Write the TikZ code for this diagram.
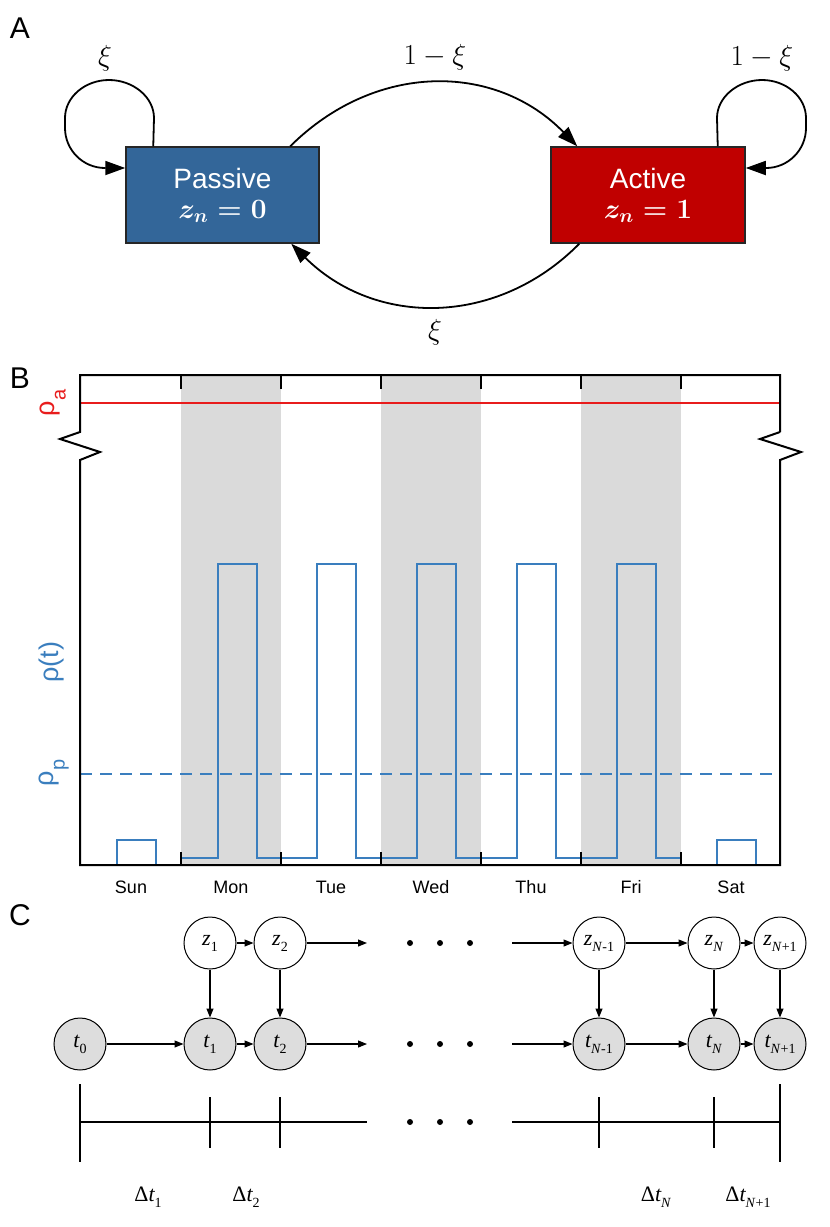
\RequirePackage{fix-cm}
\documentclass[tikz,border=0pt]{standalone}
\usepackage{amsmath}
\usepackage{fontspec}
\usetikzlibrary{arrows.meta,calc}
\newfontfamily\hv{Liberation Sans}
\newfontfamily\tms{Liberation Serif}
\definecolor{pblue}{RGB}{51,102,153}
\definecolor{ared}{RGB}{192,0,0}
\definecolor{sigblue}{RGB}{58,126,190}
\definecolor{rhored}{RGB}{232,28,28}
\definecolor{shadegray}{RGB}{218,218,218}
\definecolor{tgray}{RGB}{221,221,221}
\newcommand\pcs[2]{{\itshape #1}\raisebox{-6pt}{\fontsize{14}{14}\selectfont #2}}
\tikzset{
  statebox/.style={draw=black!85, line width=1.5pt, minimum height=96pt, text=white, align=center, inner sep=0pt, font=\hv\fontsize{28}{30}\selectfont},
  bigarc/.style={line width=1.8pt, -{Triangle[length=20pt,width=14pt]}},
  mathlbl/.style={font=\fontsize{29}{29}\selectfont, inner sep=0pt},
  panellbl/.style={font=\hv\fontsize{30}{30}\selectfont, inner sep=0pt},
  daylbl/.style={font=\hv\fontsize{18}{18}\selectfont, inner sep=0pt},
  rholbl/.style={font=\hv\fontsize{27}{27}\selectfont, inner sep=0pt, rotate=90},
  zc/.style={circle, draw, line width=1pt, minimum size=52pt, inner sep=0pt, font=\tms\fontsize{22}{22}\selectfont},
  tc/.style={zc, fill=tgray},
  smallar/.style={line width=1.1pt, -{Triangle[length=9pt,width=7pt]}},
  frameline/.style={line width=2pt, line join=miter},
  tline/.style={line width=1.6pt},
  dlbl/.style={font=\tms\fontsize{22}{22}\selectfont, inner sep=0pt}
}
\begin{document}
\begin{tikzpicture}[x=1pt,y=-1pt]
\useasboundingbox (0,0) rectangle (830,1227);
% ---------------- Panel A ----------------
\node[panellbl] (labA) at (20,28) {A};
\node[statebox, fill=pblue, minimum width=193pt] (passive) at (222.5,195) {Passive\\{\boldmath$z_n = 0$}};
\node[statebox, fill=ared, minimum width=194pt] (active) at (648,195) {Active\\{\boldmath$z_n = 1$}};
% self loops
\draw[bigarc] ($(passive.north west)+(28,0)$) -- (154,118) .. controls (154,97) and (133,80) .. (109,80) .. controls (85,80) and (65,97) .. (65,118) -- (65,128) .. controls (65,150) and (83,168) .. (105,168) -- ($(passive.west)+(0,-27)$);
\draw[bigarc] ($(active.north east)+(-28,0)$) -- (717,118) .. controls (717,97) and (738,80) .. (762,80) .. controls (786,80) and (806,97) .. (806,118) -- (806,128) .. controls (806,150) and (788,168) .. (766,168) -- ($(active.east)+(0,-27)$);
% arcs between states
\draw[bigarc] ($(passive.north west)+(165,0)$) .. controls (375,62) and (495,62) .. ($(active.north west)+(27,0)$);
\draw[bigarc] ($(active.south west)+(29,0)$) .. controls (497,327) and (375,327) .. ($(passive.south west)+(166,0)$);
\node[mathlbl] (lxiP) at (105,58) {$\xi$};
\node[mathlbl] (lxiA) at (762,58) {$1-\xi$};
\node[mathlbl] (lxiT) at (435,57) {$1-\xi$};
\node[mathlbl] (lxiB) at (435,332) {$\xi$};
% ---------------- Panel B ----------------
\node[panellbl] (labB) at (20,378) {B};
\fill[shadegray] (181,375) rectangle (281,865);
\fill[shadegray] (381,375) rectangle (481,865);
\fill[shadegray] (581,375) rectangle (681,865);
\draw[rhored, line width=2pt] (80,403) -- (780,403);
\draw[sigblue, line width=2pt, dash pattern=on 12pt off 8pt] (80,774) -- (780,774);
\draw[sigblue, line width=2pt, line join=miter] (80,865) -- (117,865) -- (117,840) -- (156,840) -- (156,865) -- (181,865) -- (181,858)
  -- (218,858) -- (218,564) -- (257,564) -- (257,858)
  -- (317,858) -- (317,564) -- (356,564) -- (356,858)
  -- (417,858) -- (417,564) -- (456,564) -- (456,858)
  -- (517,858) -- (517,564) -- (556,564) -- (556,858)
  -- (617,858) -- (617,564) -- (656,564) -- (656,858)
  -- (681,858) -- (681,865) -- (717,865) -- (717,840) -- (756,840) -- (756,865) -- (780,865);
\draw[frameline] (780,432) -- (780,375) -- (80,375) -- (80,432) -- (60,439) -- (100,452) -- (80,460) -- (80,865) -- (780,865) -- (780,460) -- (801,452) -- (760,439) -- (780,432);
\foreach \x in {181,281,381,481,581,681} {
  \draw[frameline] (\x,375) -- (\x,389);
  \draw[frameline] (\x,865) -- (\x,852);
}
\node[rholbl, text=rhored] (rhoa) at (53,403) {ρ\raisebox{-11pt}{\fontsize{20}{20}\selectfont a}};
\node[rholbl, text=sigblue] (rhot) at (52,662) {ρ(t)};
\node[rholbl, text=sigblue] (rhop) at (54,773) {ρ\raisebox{-11pt}{\fontsize{20}{20}\selectfont p}};
\node[daylbl] (dSun) at (131,887) {Sun};
\node[daylbl] (dMon) at (231,887) {Mon};
\node[daylbl] (dTue) at (331,887) {Tue};
\node[daylbl] (dWed) at (431,887) {Wed};
\node[daylbl] (dThu) at (531,887) {Thu};
\node[daylbl] (dFri) at (631,887) {Fri};
\node[daylbl] (dSat) at (731,887) {Sat};
% ---------------- Panel C ----------------
\node[panellbl] (labC) at (20,915) {C};
\node[zc] (z1) at (210,943) {\pcs{z}{1}};
\node[zc] (z2) at (280,943) {\pcs{z}{2}};
\node[zc] (zNm) at (599,943) {\pcs{z}{\textit{N}-1}};
\node[zc] (zN) at (714,943) {\pcs{z}{\textit{N}}};
\node[zc] (zNp) at (780,943) {\pcs{z}{\textit{N}+1}};
\node[tc] (t0) at (80,1044) {\pcs{t}{0}};
\node[tc] (t1) at (210,1044) {\pcs{t}{1}};
\node[tc] (t2) at (280,1044) {\pcs{t}{2}};
\node[tc] (tNm) at (599,1044) {\pcs{t}{\textit{N}-1}};
\node[tc] (tN) at (714,1044) {\pcs{t}{\textit{N}}};
\node[tc] (tNp) at (780,1044) {\pcs{t}{\textit{N}+1}};
\coordinate (zA) at (367,943);
\coordinate (zB) at (512,943);
\coordinate (tA) at (367,1044);
\coordinate (tB) at (512,1044);
\draw[smallar] (z1) -- (z2);
\draw[smallar] (z2) -- (zA);
\draw[smallar] (zB) -- (zNm);
\draw[smallar] (zNm) -- (zN);
\draw[smallar] (zN) -- (zNp);
\draw[smallar] (t0) -- (t1);
\draw[smallar] (t1) -- (t2);
\draw[smallar] (t2) -- (tA);
\draw[smallar] (tB) -- (tNm);
\draw[smallar] (tNm) -- (tN);
\draw[smallar] (tN) -- (tNp);
\draw[smallar] (z1) -- (t1);
\draw[smallar] (z2) -- (t2);
\draw[smallar] (zNm) -- (tNm);
\draw[smallar] (zN) -- (tN);
\draw[smallar] (zNp) -- (tNp);
\foreach \x in {410,440,470} {
  \fill (\x,943) circle (3pt);
  \fill (\x,1044) circle (3pt);
  \fill (\x,1122) circle (3pt);
}
% timeline
\draw[tline] (80,1122) -- (367,1122);
\draw[tline] (512,1122) -- (780,1122);
\draw[tline] (80,1084) -- (80,1162);
\draw[tline] (780,1084) -- (780,1162);
\foreach \x in {210,280,599,714} {
  \draw[tline] (\x,1097) -- (\x,1148);
}
\node[dlbl] (dt1) at (148,1197) {Δ\pcs{t}{1}};
\node[dlbl] (dt2) at (246,1197) {Δ\pcs{t}{2}};
\node[dlbl] (dtN) at (656,1197) {Δ\pcs{t}{\textit{N}}};
\node[dlbl] (dtNp) at (748,1197) {Δ\pcs{t}{\textit{N}+1}};
\end{tikzpicture}
\end{document}
